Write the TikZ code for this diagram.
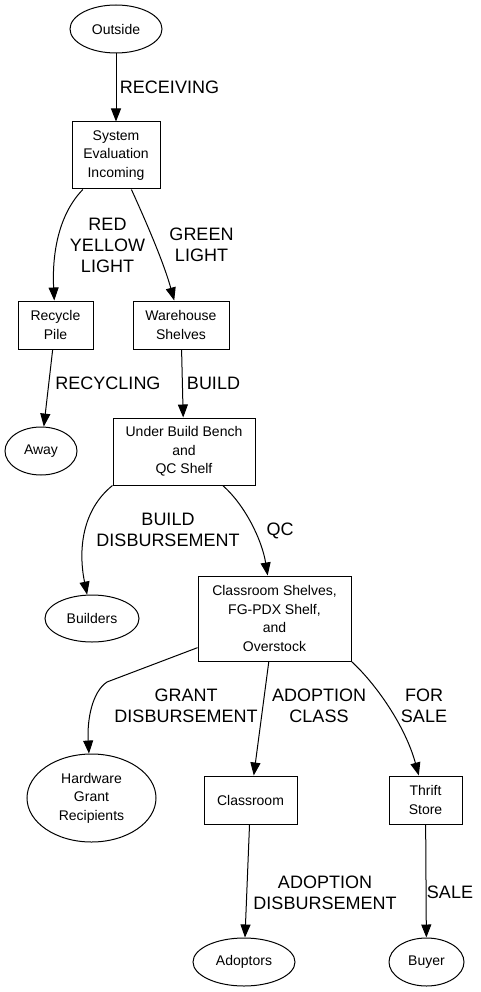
\documentclass[tikz,border=0pt]{standalone}
\usepackage{fontspec}
\setmainfont{Liberation Sans}
\usetikzlibrary{arrows.meta,shapes.geometric,positioning}
\tikzset{
  place/.style={
    rectangle, draw=black, line width=1pt,
    inner sep=0pt, align=center,
    font=\fontsize{14}{18.5}\selectfont
  },
  party/.style={
    ellipse, draw=black, line width=1pt,
    inner sep=0pt, align=center,
    font=\fontsize{14}{18.5}\selectfont
  },
  flow/.style={-{Triangle[length=13pt,width=10pt]}, line width=1pt},
  flowlbl/.style={font=\fontsize{18}{21}\selectfont, align=center}
}

\begin{document}
\begin{tikzpicture}[x=1pt,y=-1pt]

    \useasboundingbox (0,0) rectangle (481,992);

    %% ---- intake ---------------------------------------------------
    \node[party, minimum width=92pt, minimum height=48pt] (out) at (116,29) {Outside};
    \node[place, minimum width=88pt, minimum height=67pt] (sei) at (116,155.5)
      {System\\Evaluation\\Incoming};
    \node[place, minimum width=75pt, minimum height=48pt] (rp) at (55.5,325) {Recycle\\Pile};
    \node[place, minimum width=96pt, minimum height=48pt] (ws) at (181,325)
      {Warehouse\\Shelves};
    \node[party, minimum width=72pt, minimum height=48pt] (away) at (41,451) {Away};
    \node[place, minimum width=142pt, minimum height=67pt] (ubb) at (184,451.5)
      {Under Build Bench\\and\\QC Shelf};

    %% ---- distribution ---------------------------------------------
    \node[party, minimum width=94pt, minimum height=47pt] (bld) at (92,618.5) {Builders};
    \node[place, minimum width=153pt, minimum height=85pt] (cs) at (274.5,618.5)
      {Classroom Shelves,\\FG-PDX Shelf,\\and\\Overstock};
    \node[party, minimum width=129pt, minimum height=88pt] (hgr) at (91.5,798)
      {Hardware\\Grant\\Recipients};
    \node[place, minimum width=93pt, minimum height=48pt] (cls) at (250.5,800) {Classroom};
    \node[place, minimum width=73pt, minimum height=48pt] (ts) at (425.5,800) {Thrift\\Store};
    \node[party, minimum width=102pt, minimum height=48pt] (adp) at (244,962) {Adoptors};
    \node[party, minimum width=75pt, minimum height=48pt] (buy) at (426.5,962) {Buyer};

    \coordinate (gbend) at (107,682);

    %% ---- flows ----------------------------------------------------
    \draw[flow] (out) -- (sei);
    \draw[flow] (sei) .. controls (58,215) and (52,255) .. (rp);
    \draw[flow] (sei) .. controls (143,215) and (163,260) .. (ws);
    \draw[flow] (rp) -- (away);
    \draw[flow] (ws) -- (ubb);
    \draw[flow] (ubb.south west) .. controls (82,510) and (78,550) .. (bld);
    \draw[flow] (ubb) .. controls (245,505) and (262,540) .. (cs);
    \draw[flow] (cs) -- (gbend) .. controls (92,692) and (87,720) .. (hgr);
    \draw[flow] (cs) -- (cls);
    \draw[flow] (cs.south east) .. controls (375,683) and (405,725) .. (ts);
    \draw[flow] (cls) -- (adp);
    \draw[flow] (ts) -- (buy);

    %% ---- labels ---------------------------------------------------
    \node[flowlbl] (lrcv) at (169.5,87) {RECEIVING};
    \node[flowlbl] (lred) at (107.5,245) {RED\\YELLOW\\LIGHT};
    \node[flowlbl] (lgrn) at (201.5,245) {GREEN\\LIGHT};
    \node[flowlbl] (lrcy) at (108,383) {RECYCLING};
    \node[flowlbl] (lbld) at (213.5,383) {BUILD};
    \node[flowlbl] (lbds) at (168,530) {BUILD\\DISBURSEMENT};
    \node[flowlbl] (lqc)  at (280,531) {QC};
    \node[flowlbl] (lgds) at (186,706) {GRANT\\DISBURSEMENT};
    \node[flowlbl] (ladc) at (319,706) {ADOPTION\\CLASS};
    \node[flowlbl] (lfs)  at (424,706) {FOR\\SALE};
    \node[flowlbl] (lads) at (325,892.5) {ADOPTION\\DISBURSEMENT};
    \node[flowlbl] (lsal) at (450,892) {SALE};

\end{tikzpicture}
\end{document}
